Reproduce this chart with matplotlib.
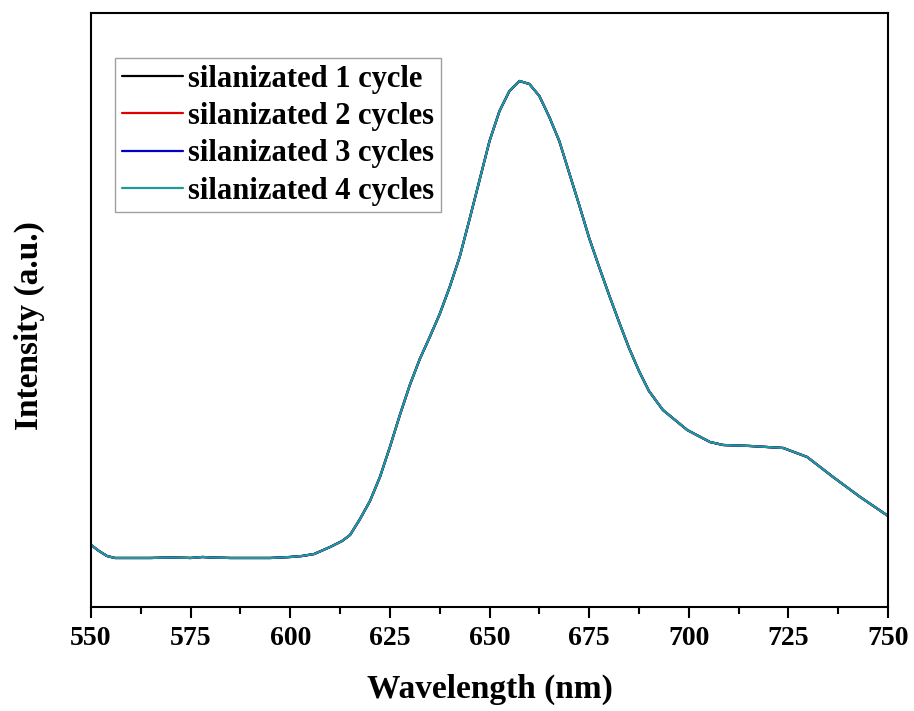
import numpy as np
import matplotlib.pyplot as plt
from matplotlib.ticker import MultipleLocator, NullLocator

# emission spectra (intensity in arbitrary units)
wavelength = [550, 552, 554, 556, 560, 565, 570, 575, 578, 580, 585, 590, 595,
              600, 603, 606, 610, 613, 615, 617.5, 620, 622.5, 625, 627.5, 630,
              632.5, 635, 637.5, 640, 642.5, 645, 647.5, 650, 652.5, 655, 657.5,
              660, 662.5, 665, 667.5, 670, 672.5, 675, 677.5, 680, 682.5, 685,
              687.5, 690, 693.5, 699.6, 705.3, 708.6, 715.4, 723.7, 729.7,
              736.2, 743, 750]
intensity = [62, 56, 51, 49, 49, 49, 49.5, 49, 50, 49.5, 49, 49, 49,
             50, 51, 53, 60, 66, 72, 88, 106, 130, 160, 192, 222,
             248, 270, 293, 320, 350, 388, 427, 466, 496, 516, 526,
             523, 511, 490, 466, 434, 402, 369, 340, 312, 285, 259,
             236, 216, 197, 177, 165, 162, 161, 159, 150,
             130, 110, 91]

series_labels = ['silanizated 1 cycle', 'silanizated 2 cycles',
                 'silanizated 3 cycles', 'silanizated 4 cycles']
series_colors = ['black', '#e00000', '#0000c8', '#1f9a9a']
series_values = [intensity, intensity, intensity, intensity]

plt.rcParams['font.family'] = ['Liberation Serif', 'DejaVu Serif']
plt.rcParams['font.weight'] = 'bold'

fig = plt.figure(figsize=(9.14, 7.11), dpi=100)
ax = fig.add_axes([0.0996, 0.1463, 0.8720, 0.8354])

for vals, lab, col in zip(series_values, series_labels, series_colors):
    ax.plot(wavelength, vals, color=col, lw=1.6, label=lab,
            solid_joinstyle='round', solid_capstyle='round')

ax.set_xlim(550, 750)
ax.set_ylim(0, 594)
ax.xaxis.set_major_locator(MultipleLocator(25))
ax.xaxis.set_minor_locator(MultipleLocator(12.5))
ax.yaxis.set_major_locator(NullLocator())
ax.tick_params(axis='x', which='major', direction='out', length=8, width=1.5,
               labelsize=20, pad=6)
ax.tick_params(axis='x', which='minor', direction='out', length=5, width=1.5)
for lbl in ax.get_xticklabels():
    lbl.set_fontweight('bold')
for sp in ax.spines.values():
    sp.set_linewidth(1.5)

ax.set_xlabel('Wavelength (nm)', fontsize=24, fontweight='bold', labelpad=16)
ax.set_ylabel('Intensity (a.u.)', fontsize=24, fontweight='bold')
ax.yaxis.set_label_coords(-0.058, 0.473)

leg = ax.legend(loc='upper left', bbox_to_anchor=(0.03, 0.924), fontsize=22,
                frameon=True, fancybox=False, handlelength=2.0,
                handletextpad=0.16, borderpad=0.22, labelspacing=0.27,
                borderaxespad=0)
leg.get_frame().set_edgecolor('#888888')
leg.get_frame().set_linewidth(1.0)
for t in leg.get_texts():
    t.set_fontweight('bold')

fig.savefig('out.png', dpi=100)
